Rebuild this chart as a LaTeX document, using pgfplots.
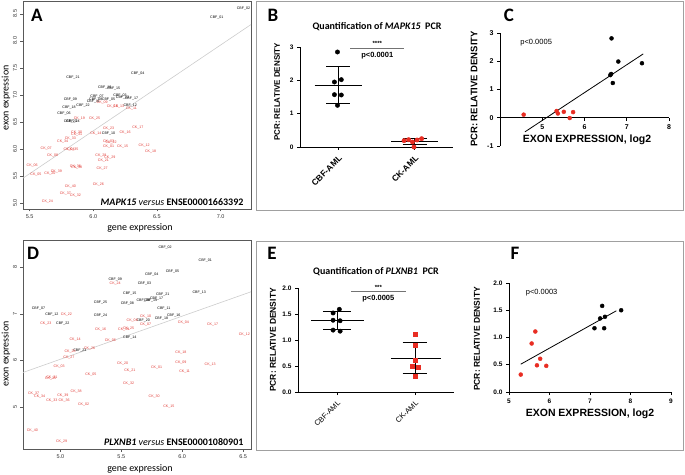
\documentclass[border=0pt]{standalone}
\usepackage{pgfplots}
\pgfplotsset{compat=1.18}
\usepackage{fontspec}
\setmainfont{Liberation Sans}
\newfontfamily\cali{Carlito}
\definecolor{ckred}{RGB}{225,60,55}
\definecolor{ptred}{RGB}{232,45,35}
\definecolor{framegray}{RGB}{160,160,160}
\newcommand{\fs}[1]{\fontsize{#1}{#1}\selectfont}
\pgfplotsset{
 rstyle/.style={scale only axis, anchor=south west, axis line style={black!65, line width=0.5pt},
   tick align=outside, xtick pos=lower, ytick pos=left, major tick length=2.5pt,
   tick style={black!65, line width=0.4pt}, ticklabel style={font=\fs{5.5}, text=black!80},
   yticklabel style={rotate=90, anchor=south},
   /pgf/number format/assume math mode=true, clip=false},
 gpstyle/.style={scale only axis, anchor=south west, axis lines*=left,
   axis line style={black, line width=0.8pt}, tick align=outside, major tick length=3pt,
   tick style={black, line width=0.8pt}, ticklabel style={font=\bfseries\fs{6.5}},
   /pgf/number format/assume math mode=true, clip=false},
 lab/.style={only marks, mark=*, mark size=0pt, mark options={draw=none,fill=none},
   nodes near coords, point meta=explicit symbolic,
   nodes near coords style={font=\fs{3.6}, anchor=center, inner sep=0pt, text=#1}},
}
\begin{document}
\begin{tikzpicture}
\path[use as bounding box] (0pt,0pt) rectangle (685pt,474pt);
% frames
\draw[framegray, line width=0.8pt] (256pt,473pt) rectangle (683pt,264pt);
\draw[framegray, line width=0.8pt] (256pt,233pt) rectangle (683pt,24pt);

% ---------------- Panel A ----------------
\begin{axis}[rstyle, at={(23pt,265pt)}, width=228pt, height=208pt,
  xmin=5.448, xmax=7.239, ymin=4.89, ymax=8.735,
  xtick={5.5,6.0,6.5,7.0}, ytick={5.0,5.5,6.0,6.5,7.0,7.5,8.0,8.5},
  xticklabel style={/pgf/number format/.cd, fixed, fixed zerofill, precision=1},
  yticklabel style={/pgf/number format/.cd, fixed, fixed zerofill, precision=1}]
\addplot[black!20, line width=0.6pt] coordinates {(5.448,5.46) (7.239,8.30)};
\addplot[lab=black] table[meta=lab] {
x y lab
7.18 8.60 CBF\_02
6.97 8.42 CBF\_01
6.35 7.40 CBF\_04
5.84 7.32 CBF\_21
6.09 7.13 CBF\_16
6.16 7.12 CBF\_15
5.82 6.92 CBF\_09
6.03 6.97 CBF\_07
6.02 6.92 CBF\_08
6.00 6.88 CBF\_11
6.21 6.98 CBF\_03
6.23 6.94 CBF\_13
6.30 6.93 CBF\_17
6.12 6.91 CBF\_05
5.92 6.81 CBF\_22
5.81 6.77 CBF\_18
6.29 6.81 CBF\_12
5.77 6.65 CBF\_06
5.82 6.51 CBF\_23
5.84 6.50 CBF\_24
6.12 6.28 CBF\_10
};
\addplot[lab=ckred] table[meta=lab] {
x y lab
6.30 6.74 CK\_11
6.07 6.85 CK\_09
6.15 6.79 CK\_10
6.20 6.78 CK\_13
5.89 6.57 CK\_19
6.01 6.56 CK\_25
6.12 6.37 CK\_23
6.35 6.39 CK\_17
6.25 6.31 CK\_16
6.02 6.28 CK\_14
5.87 6.30 CK\_30
5.87 6.27 CK\_31
5.82 6.19 CK\_33
5.76 6.14 CK\_34
5.63 6.00 CK\_07
5.81 5.99 CK\_04
5.84 5.99 CK\_35
5.68 5.88 CK\_08
6.40 6.06 CK\_12
6.45 5.96 CK\_18
6.23 6.05 CK\_15
6.12 6.04 CK\_01
6.12 6.14 CK\_03
6.14 6.12 CK\_22
6.06 5.88 CK\_28
6.13 5.84 CK\_29
6.08 5.78 CK\_21
5.52 5.70 CK\_06
5.86 5.67 CK\_36
5.87 5.65 CK\_38
6.07 5.63 CK\_27
5.71 5.58 CK\_39
5.55 5.53 CK\_05
5.66 5.54 CK\_20
5.82 5.31 CK\_40
6.04 5.34 CK\_26
5.78 5.17 CK\_37
5.86 5.14 CK\_32
5.64 5.03 CK\_24
};
\node[anchor=east, font=\cali\fs{10}] at (rel axis cs:0.982,0.034)
  {\textbf{\textit{MAPK15}} \textit{versus} \textbf{ENSE00001663392}};
\end{axis}

% ---------------- Panel D ----------------
\begin{axis}[rstyle, at={(23pt,25pt)}, width=228pt, height=209pt,
  xmin=4.693, xmax=6.565, ymin=4.10, ymax=8.58,
  xtick={5.0,5.5,6.0,6.5}, ytick={5,6,7,8},
  xticklabel style={/pgf/number format/.cd, fixed, fixed zerofill, precision=1}]
\addplot[black!20, line width=0.6pt] coordinates {(4.693,5.74) (6.565,7.47)};
\addplot[lab=black] table[meta=lab] {
x y lab
5.86 8.41 CBF\_02
6.19 8.14 CBF\_01
5.92 7.91 CBF\_05
5.75 7.84 CBF\_04
5.45 7.73 CBF\_09
5.69 7.64 CBF\_03
5.57 7.44 CBF\_15
6.14 7.46 CBF\_13
5.84 7.42 CBF\_21
5.79 7.33 CBF\_17
5.68 7.28 CBF\_06
5.74 7.28 CBF\_19
5.33 7.24 CBF\_25
5.55 7.21 CBF\_08
5.85 7.12 CBF\_11
4.82 7.12 CBF\_07
4.93 6.98 CBF\_12
5.33 6.96 CBF\_24
5.93 6.97 CBF\_16
5.83 6.90 CBF\_18
5.68 6.86 CBF\_20
5.02 6.79 CBF\_22
5.57 6.49 CBF\_14
5.16 6.21 CBF\_23
};
\addplot[lab=ckred] table[meta=lab] {
x y lab
5.45 7.64 CK\_24
5.05 6.99 CK\_22
5.70 6.94 CK\_10
5.59 6.86 CK\_08
4.88 6.79 CK\_23
5.70 6.77 CK\_07
6.01 6.81 CK\_04
6.25 6.76 CK\_17
5.33 6.66 CK\_16
5.56 6.69 CK\_25
5.52 6.66 CK\_19
6.51 6.55 CK\_12
5.12 6.44 CK\_14
5.41 6.43 CK\_06
5.24 6.25 CK\_26
5.08 6.19 CK\_28
5.07 6.06 CK\_27
5.99 6.16 CK\_18
4.99 5.87 CK\_03
5.51 5.94 CK\_20
5.99 5.96 CK\_09
6.23 5.91 CK\_13
5.79 5.84 CK\_01
5.57 5.78 CK\_21
6.02 5.76 CK\_11
5.25 5.69 CK\_05
4.93 5.64 CK\_31
4.92 5.60 CK\_35
5.56 5.50 CK\_32
5.13 5.34 CK\_38
4.78 5.29 CK\_37
4.83 5.23 CK\_34
5.02 5.24 CK\_39
5.77 5.23 CK\_30
4.93 5.13 CK\_33
5.03 5.14 CK\_36
5.19 5.05 CK\_02
5.89 5.01 CK\_15
4.77 4.50 CK\_40
5.01 4.26 CK\_29
};
\node[anchor=east, font=\cali\fs{10}] at (rel axis cs:0.982,0.033)
  {\textbf{\textit{PLXNB1}} \textit{versus} \textbf{ENSE00001080901}};
\end{axis}

% ---------------- Panel B ----------------
\begin{axis}[gpstyle, at={(300pt,327pt)}, width=153pt, height=100pt,
  xmin=-0.5, xmax=1.5, ymin=0, ymax=3, ytick={0,1,2,3}, xtick={0,1},
  xticklabels={CBF-AML,CK-AML},
  xticklabel style={rotate=45, anchor=north east, font=\bfseries\fs{8.5}}]
\addplot[black, line width=0.8pt] coordinates {(-0.31,1.86) (0.31,1.86)};
\addplot[black, line width=0.8pt] coordinates {(-0.16,2.42) (0.16,2.42)};
\addplot[black, line width=0.8pt] coordinates {(-0.16,1.30) (0.16,1.30)};
\addplot[black, line width=0.8pt] coordinates {(0,1.30) (0,2.42)};
\addplot[only marks, mark=*, mark size=2.2pt, black] coordinates
  {(-0.01,2.85) (0.04,2.02) (-0.05,1.95) (-0.05,1.57) (0.04,1.56) (-0.01,1.25)};
\addplot[black, line width=0.8pt] coordinates {(0.69,0.17) (1.31,0.17)};
\addplot[black, line width=0.8pt] coordinates {(0.84,0.27) (1.16,0.27)};
\addplot[black, line width=0.8pt] coordinates {(0.84,0.07) (1.16,0.07)};
\addplot[black, line width=0.8pt] coordinates {(1,0.07) (1,0.27)};
\addplot[only marks, mark=*, mark size=2.2pt, ptred] coordinates
  {(0.86,0.19) (0.92,0.22) (0.97,0.15) (1.03,0.21) (1.09,0.25) (0.99,0.0)};
\addplot[black!55, line width=0.8pt] coordinates {(0.16,2.97) (0.86,2.97)};
\node[font=\bfseries\fs{6}] at (axis cs:0.51,3.12) {****};
\node[font=\bfseries\fs{7.5}] at (axis cs:0.51,2.75) {p<0.0001};
\end{axis}

% ---------------- Panel C ----------------
\begin{axis}[gpstyle, at={(500pt,328pt)}, width=169pt, height=113pt,
  xmin=4, xmax=8, ymin=-1, ymax=3, axis x line*=middle, axis y line*=left,
  xtick={5,6,7,8}, ytick={-1,0,1,2,3}, ticklabel style={font=\bfseries\fs{7}}]
\addplot[black, line width=0.8pt] coordinates {(4.59,-0.5) (7.39,2.26)};
\addplot[only marks, mark=*, mark size=2pt, black] coordinates
  {(6.64,2.81) (6.80,1.99) (7.36,1.93) (6.61,1.51) (6.63,1.55) (6.67,1.23)};
\addplot[only marks, mark=*, mark size=2pt, ptred] coordinates
  {(4.56,0.11) (5.34,0.24) (5.37,0.15) (5.51,0.21) (5.73,0.20) (5.65,-0.01)};
\node[anchor=west, font=\fs{7.5}] at (axis cs:4.40,2.65) {p<0.0005};
\end{axis}

% ---------------- Panel E ----------------
\begin{axis}[gpstyle, at={(298pt,82pt)}, width=156pt, height=104pt,
  xmin=-0.5, xmax=1.5, ymin=0, ymax=2, ytick={0,0.5,1,1.5,2}, xtick={0,1},
  yticklabel style={/pgf/number format/.cd, fixed, fixed zerofill, precision=1},
  xticklabels={CBF-AML,CK-AML},
  xticklabel style={rotate=45, anchor=north east, font=\fs{7.5}}]
\addplot[black, line width=0.8pt] coordinates {(-0.33,1.37) (0.34,1.37)};
\addplot[black, line width=0.8pt] coordinates {(-0.18,1.545) (0.18,1.545)};
\addplot[black, line width=0.8pt] coordinates {(-0.18,1.20) (0.18,1.20)};
\addplot[black, line width=0.8pt] coordinates {(0,1.20) (0,1.545)};
\addplot[only marks, mark=*, mark size=2.2pt, black] coordinates
  {(0.03,1.59) (-0.05,1.52) (-0.05,1.38) (0.04,1.37) (-0.05,1.19) (0.04,1.17)};
\addplot[black, line width=0.8pt] coordinates {(0.69,0.65) (1.33,0.65)};
\addplot[black, line width=0.8pt] coordinates {(0.84,0.95) (1.16,0.95)};
\addplot[black, line width=0.8pt] coordinates {(0.84,0.35) (1.16,0.35)};
\addplot[black, line width=0.8pt] coordinates {(1,0.35) (1,0.95)};
\addplot[only marks, mark=square*, mark size=2pt, ptred] coordinates
  {(1.0,1.115) (1.0,0.90) (1.0,0.61) (0.96,0.49) (1.04,0.48) (1.0,0.31)};
\addplot[black!55, line width=0.8pt] coordinates {(0.18,1.94) (0.88,1.94)};
\node[font=\bfseries\fs{6}] at (axis cs:0.53,2.02) {***};
\node[font=\bfseries\fs{7.5}] at (axis cs:0.53,1.79) {p<0.0005};
\end{axis}

% ---------------- Panel F ----------------
\begin{axis}[gpstyle, at={(509pt,82pt)}, width=162pt, height=109pt,
  xmin=5, xmax=9, ymin=0, ymax=2, xtick={5,6,7,8,9}, ytick={0,0.5,1,1.5,2},
  yticklabel style={/pgf/number format/.cd, fixed, fixed zerofill, precision=1}]
\addplot[black, line width=0.8pt] coordinates {(5.29,0.51) (7.65,1.49)};
\addplot[only marks, mark=*, mark size=2pt, black] coordinates
  {(7.30,1.58) (7.25,1.35) (7.37,1.38) (7.11,1.17) (7.35,1.17) (7.77,1.50)};
\addplot[only marks, mark=*, mark size=2pt, ptred] coordinates
  {(5.29,0.32) (5.56,0.89) (5.65,1.11) (5.77,0.61) (5.69,0.49) (5.92,0.48)};
\node[anchor=west, font=\fs{7.5}] at (axis cs:5.33,1.83) {p<0.0003};
\end{axis}

% ---------------- labels ----------------
\node[font=\cali\bfseries\fs{19}] at (37pt,459pt) {A};
\node[font=\cali\bfseries\fs{19}] at (273pt,459pt) {B};
\node[font=\cali\bfseries\fs{19}] at (509pt,459pt) {C};
\node[font=\cali\bfseries\fs{19}] at (33pt,221pt) {D};
\node[font=\cali\bfseries\fs{19}] at (272pt,221pt) {E};
\node[font=\cali\bfseries\fs{19}] at (515pt,221pt) {F};

\node[font=\cali\fs{10}, rotate=90] at (6pt,376pt) {exon expression};
\node[font=\cali\fs{10}] at (140pt,246pt) {gene expression};
\node[font=\cali\fs{10}, rotate=90] at (6pt,120pt) {exon expression};
\node[font=\cali\fs{10}] at (140pt,5pt) {gene expression};

\node[font=\cali\bfseries\fs{10}] at (377pt,447pt) {Quantification of \textit{MAPK15}\ \ PCR};
\node[font=\cali\bfseries\fs{10}] at (376pt,202pt) {Quantification of \textit{PLXNB1}\ \ PCR};

\node[font=\bfseries\fs{8}, rotate=90] at (277pt,382pt) {PCR: RELATIVE DENSITY};
\node[font=\bfseries\fs{9.5}, rotate=90] at (474pt,385pt) {PCR: RELATIVE DENSITY};
\node[font=\bfseries\fs{8.5}, rotate=90] at (273pt,134pt) {PCR: RELATIVE DENSITY};
\node[font=\bfseries\fs{8.5}, rotate=90] at (477pt,135pt) {PCR: RELATIVE DENSITY};

\node[font=\bfseries\fs{10.5}] at (587pt,334pt) {EXON EXPRESSION, log2};
\node[font=\bfseries\fs{10.5}] at (590pt,60pt) {EXON EXPRESSION, log2};
\end{tikzpicture}
\end{document}
